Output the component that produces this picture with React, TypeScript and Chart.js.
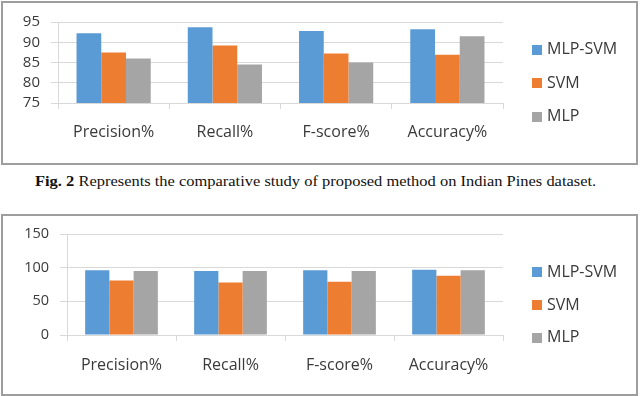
import React, { useEffect, useRef } from "react";
import { Chart, registerables } from "chart.js";

Chart.register(...registerables);

// ---- data ----
const categories = ["Precision%", "Recall%", "F-score%", "Accuracy%"];
const seriesNames = ["MLP-SVM", "SVM", "MLP"];
const seriesColors = ["#5B9BD5", "#ED7D31", "#A5A5A5"];

// Fig. 2 (Indian Pines)
const pinesMlpSvm = [92.2, 93.7, 92.8, 93.2];
const pinesSvm = [87.5, 89.2, 87.2, 86.9];
const pinesMlp = [86.0, 84.5, 85.0, 91.5];
const pinesTicks = [75, 80, 85, 90, 95];

// second chart
const secondMlpSvm = [96, 95, 96, 97];
const secondSvm = [81, 78, 79, 88];
const secondMlp = [95, 95, 95, 96];
const secondTicks = [0, 50, 100, 150];

const caption = "Represents the comparative study of proposed method on Indian Pines dataset.";

const sideLegend = {
  id: "sideLegend",
  afterDraw(chart: any, _args: any, opts: any) {
    const ctx = chart.ctx;
    ctx.save();
    ctx.font = `${opts.fontSize}px "Open Sans"`;
    ctx.textBaseline = "middle";
    ctx.textAlign = "left";
    chart.data.datasets.forEach((ds: any, i: number) => {
      const y = opts.y + i * opts.gap;
      ctx.fillStyle = ds.backgroundColor;
      ctx.fillRect(opts.x, Math.round(y - opts.box / 2), opts.box, opts.box);
      ctx.fillStyle = opts.color;
      ctx.fillText(ds.label, opts.x + opts.box + opts.textGap, y);
    });
    ctx.restore();
  },
};

type Layout = {
  width: number;
  height: number;
  left: number;
  right: number;
  top: number;
  bottom: number;
  yFont: number;
  xPad: number;
  legendY: number;
  legendGap: number;
};

function makeConfig(series: number[][], ticks: number[], L: Layout): any {
  const grid = "#D9D9D9";
  const text = "#3A3A3A";
  return {
    type: "bar",
    data: {
      labels: categories,
      datasets: series.map((vals, i) => ({
        label: seriesNames[i],
        data: vals,
        backgroundColor: seriesColors[i],
        borderWidth: 0,
        categoryPercentage: 0.667,
        barPercentage: 1.0,
      })),
    },
    plugins: [sideLegend],
    options: {
      responsive: false,
      animation: false,
      devicePixelRatio: 1,
      layout: { padding: { left: 0, right: L.width - L.right, top: L.top, bottom: 0 } },
      plugins: {
        legend: { display: false },
        tooltip: { enabled: false },
        sideLegend: {
          x: 532,
          y: L.legendY,
          gap: L.legendGap,
          box: 10,
          textGap: 5,
          fontSize: 16,
          color: text,
        },
      },
      scales: {
        x: {
          grid: { display: true, drawOnChartArea: false, drawTicks: true, tickLength: 6, color: grid, lineWidth: 1 },
          border: { display: true, color: grid },
          ticks: { color: text, padding: L.xPad, font: { family: "Open Sans", size: 16 }, maxRotation: 0, autoSkip: false },
          afterFit: (s: any) => {
            s.height = L.height - L.bottom;
          },
        },
        y: {
          min: ticks[0],
          max: ticks[ticks.length - 1],
          ticks: {
            stepSize: ticks[1] - ticks[0],
            autoSkip: false,
            color: text,
            padding: 11,
            font: { family: "Open Sans", size: L.yFont },
          },
          grid: { color: grid, tickLength: 7, drawTicks: true, lineWidth: 1 },
          border: { display: true, color: grid },
          afterFit: (s: any) => {
            s.width = L.left;
          },
        },
      },
    },
  };
}

function BarChart({ series, ticks, layout, top }: { series: number[][]; ticks: number[]; layout: Layout; top: number }) {
  const ref = useRef<HTMLCanvasElement | null>(null);
  useEffect(() => {
    if (!ref.current) return;
    const chart = new Chart(ref.current, makeConfig(series, ticks, layout));
    return () => chart.destroy();
  }, []);
  return (
    <canvas
      ref={ref}
      width={layout.width}
      height={layout.height}
      style={{ position: "absolute", left: 0, top, width: layout.width, height: layout.height }}
    />
  );
}

export default function App() {
  useEffect(() => {
    document.body.style.margin = "0";
    document.body.style.background = "#ffffff";
  }, []);
  const frame: React.CSSProperties = {
    position: "absolute",
    left: 1,
    width: 637,
    boxSizing: "border-box",
    border: "2px solid #9E9E9E",
    background: "#ffffff",
  };
  return (
    <div style={{ position: "relative", width: 640, height: 396, overflow: "hidden", background: "#fff" }}>
      <div style={{ ...frame, top: 1, height: 164 }} />
      <div style={{ ...frame, top: 214, height: 182 }} />
      <div
        style={{
          position: "absolute",
          left: 35,
          top: 172,
          fontFamily: '"Liberation Serif", "Times New Roman", serif',
          fontSize: 15,
          lineHeight: "18px",
          color: "#111",
          whiteSpace: "nowrap",
          transform: "scaleX(1.097)",
          transformOrigin: "0 0",
        }}
      >
        <b>Fig. 2</b> {caption}
      </div>
      <BarChart
        series={[pinesMlpSvm, pinesSvm, pinesMlp]}
        ticks={pinesTicks}
        top={0}
        layout={{
          width: 640,
          height: 170,
          left: 58,
          right: 503,
          top: 22,
          bottom: 103,
          yFont: 15,
          xPad: 14,
          legendY: 49.5,
          legendGap: 33.5,
        }}
      />
      <BarChart
        series={[secondMlpSvm, secondSvm, secondMlp]}
        ticks={secondTicks}
        top={210}
        layout={{
          width: 640,
          height: 186,
          left: 67,
          right: 503,
          top: 24,
          bottom: 125,
          yFont: 14.5,
          xPad: 15,
          legendY: 62.3,
          legendGap: 32.7,
        }}
      />
    </div>
  );
}
